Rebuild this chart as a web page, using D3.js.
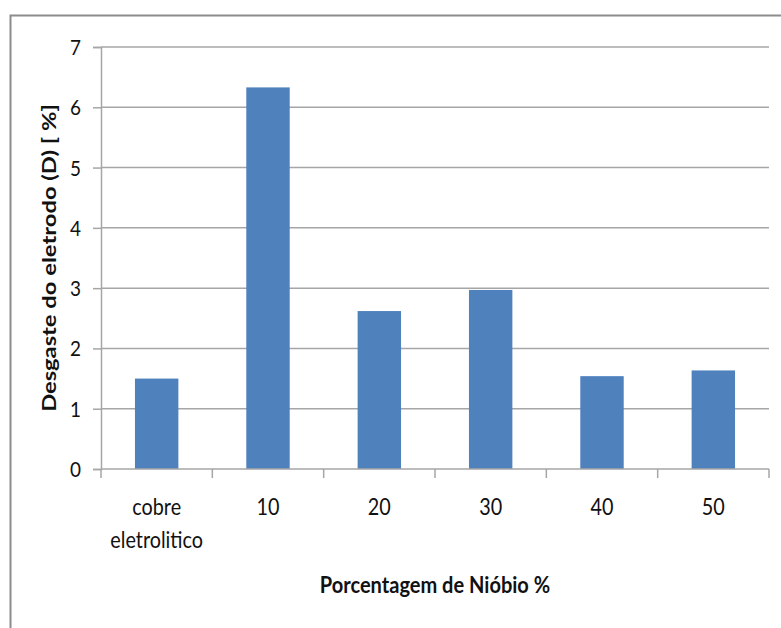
<!DOCTYPE html>
<html>
<head>
<meta charset="utf-8">
<script src="https://cdn.jsdelivr.net/npm/d3@7"></script>
<style>
  html, body { margin: 0; padding: 0; background: #fff; }
  svg { display: block; }
  text { font-family: Lato, "Open Sans", sans-serif; }
</style>
</head>
<body>
<svg id="chart" width="781" height="628"></svg>
<script>
// Electrode wear by niobium content
const categories = ["cobre\neletrolitico", "10", "20", "30", "40", "50"];
const wear = [1.50, 6.33, 2.62, 2.97, 1.54, 1.635];
const yTicks = [0, 1, 2, 3, 4, 5, 6, 7];

const svg = d3.select("#chart");
const W = 781, H = 628;
const m = { left: 101, right: 12, top: 47, bottom: 159 };
const plotW = W - m.left - m.right;
const plotH = H - m.top - m.bottom;

// squeeze or stretch a text run along its baseline
function fit(sel, factor) {
  sel.each(function () {
    const len = this.getComputedTextLength();
    d3.select(this)
      .attr("textLength", len * factor)
      .attr("lengthAdjust", "spacingAndGlyphs");
  });
}

// outer frame
svg.append("rect")
  .attr("x", 10.5).attr("y", 15.5)
  .attr("width", 800).attr("height", 700)
  .attr("fill", "none").attr("stroke", "#8c8c8c").attr("stroke-width", 2);

const x = d3.scaleBand()
  .domain(categories)
  .range([0, plotW])
  .paddingInner(0.61)
  .paddingOuter(0.305);

const y = d3.scaleLinear().domain([0, 7]).range([plotH, 0]);

const g = svg.append("g").attr("transform", `translate(${m.left},${m.top})`);

// horizontal gridlines
g.append("g").selectAll("line")
  .data(yTicks.filter(d => d > 0))
  .join("line")
  .attr("x1", 0).attr("x2", plotW)
  .attr("y1", d => y(d)).attr("y2", d => y(d))
  .attr("stroke", "#a6a6a6").attr("stroke-width", 1.5);

// bars
g.append("g").selectAll("rect")
  .data(categories.map((c, i) => ({ c, v: wear[i] })))
  .join("rect")
  .attr("x", d => x(d.c))
  .attr("width", x.bandwidth())
  .attr("y", d => y(d.v))
  .attr("height", d => y(0) - y(d.v))
  .attr("fill", "#4f81bd");

// y axis
const yAxis = g.append("g")
  .call(d3.axisLeft(y).tickValues(yTicks).tickSize(8).tickPadding(12).tickFormat(d3.format("d")));
yAxis.select(".domain").attr("stroke", "#a6a6a6").attr("stroke-width", 1.5);
yAxis.selectAll(".tick line").attr("stroke", "#a6a6a6").attr("stroke-width", 1.5);
yAxis.selectAll(".tick text")
  .attr("font-family", "Lato, 'Open Sans', sans-serif")
  .attr("font-size", 22).attr("fill", "#111")
  .attr("dy", "0.34em")
  .call(fit, 0.86);

// x axis: ticks at category boundaries
const step = x.step();
const xAxisG = g.append("g").attr("transform", `translate(0,${plotH})`);
xAxisG.append("line")
  .attr("x1", 0).attr("x2", plotW).attr("y1", 0).attr("y2", 0)
  .attr("stroke", "#a6a6a6").attr("stroke-width", 1.5);
xAxisG.selectAll("line.bt")
  .data(d3.range(categories.length + 1))
  .join("line").attr("class", "bt")
  .attr("x1", i => i * step).attr("x2", i => i * step)
  .attr("y1", 0).attr("y2", 9)
  .attr("stroke", "#a6a6a6").attr("stroke-width", 1.5);

// category labels, one line per text element
const catG = xAxisG.selectAll("g.cat")
  .data(categories)
  .join("g").attr("class", "cat")
  .attr("transform", d => `translate(${x(d) + x.bandwidth() / 2},0)`);
catG.selectAll("text")
  .data(d => d.split("\n"))
  .join("text")
  .attr("text-anchor", "middle")
  .attr("font-size", 23).attr("fill", "#111")
  .attr("x", 0)
  .attr("y", (d, i) => 46 + i * 33)
  .text(d => d)
  .call(fit, 0.86);

// axis titles
svg.append("text")
  .attr("x", m.left + plotW / 2).attr("y", 593)
  .attr("text-anchor", "middle")
  .attr("font-weight", "bold").attr("font-size", 22.5).attr("fill", "#111")
  .text("Porcentagem de Nióbio %")
  .call(fit, 0.89);

svg.append("text")
  .attr("transform", `translate(56,${m.top + plotH / 2}) rotate(-90)`)
  .attr("text-anchor", "middle")
  .attr("font-weight", "bold").attr("font-size", 18).attr("fill", "#111")
  .text("Desgaste do eletrodo (D) [ %]")
  .call(fit, 1.32);
</script>
</body>
</html>
